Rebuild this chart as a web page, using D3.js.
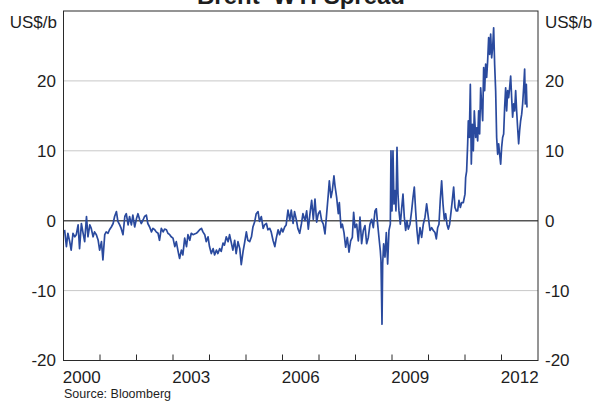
<!DOCTYPE html>
<html><head><meta charset="utf-8">
<script src="https://cdn.jsdelivr.net/npm/d3@7"></script>
<style>
body{margin:0;background:#fff}
svg{display:block}
text{font-family:"Liberation Sans",Arial,sans-serif;fill:#1e1e1e}
</style>
</head><body>
<svg id="chart" width="595" height="401"></svg>
<script>
const titleText = "Brent–WTI Spread";
const unitLabel = "US$/b";
const sourceText = "Source: Bloomberg";
const yTicks = [-20, -10, 0, 10, 20];
const gridValues = [-10, 10, 20];
const yearLabels = [2000, 2003, 2006, 2009, 2012];
const yearTicks = [2001, 2002, 2003, 2004, 2005, 2006, 2007, 2008, 2009, 2010, 2011, 2012];

// decimal-year dates and Brent minus WTI spread (US$/b)
const dates = [
2000.03,2000.08,2000.12,2000.17,2000.21,2000.26,2000.31,2000.35,2000.40,2000.44,2000.49,2000.53,2000.58,2000.63,2000.67,2000.72,2000.76,2000.81,2000.85,2000.90,2000.95,2000.99,
2001.04,2001.08,2001.13,2001.17,2001.22,2001.26,2001.31,2001.36,2001.40,2001.45,2001.49,2001.54,2001.58,2001.63,2001.68,2001.72,2001.77,2001.81,2001.86,2001.90,2001.95,
2002.00,2002.04,2002.09,2002.13,2002.18,2002.22,2002.27,2002.31,2002.36,2002.41,2002.45,2002.50,2002.54,2002.59,2002.63,2002.68,2002.73,2002.77,2002.82,2002.86,2002.91,2002.95,
2003.00,2003.05,2003.09,2003.14,2003.18,2003.23,2003.27,2003.32,2003.37,2003.41,2003.46,2003.50,2003.55,2003.59,2003.64,2003.68,2003.73,2003.78,2003.82,2003.87,2003.91,2003.96,
2004.00,2004.05,2004.10,2004.14,2004.19,2004.23,2004.28,2004.32,2004.37,2004.41,2004.46,2004.51,2004.55,2004.60,2004.64,2004.69,2004.73,2004.78,2004.83,2004.87,2004.92,2004.96,
2005.01,2005.05,2005.10,2005.15,2005.19,2005.24,2005.28,2005.33,2005.37,2005.42,2005.47,2005.51,2005.56,2005.60,2005.65,2005.69,2005.74,2005.79,2005.83,2005.88,2005.92,2005.97,
2006.01,2006.06,2006.10,2006.15,2006.20,2006.24,2006.29,2006.33,2006.38,2006.42,2006.47,2006.52,2006.56,
2006.616,2006.662,2006.707,2006.753,2006.799,2006.844,2006.890,2006.936,2006.981,
2007.027,2007.073,2007.118,2007.164,2007.210,2007.255,2007.283,2007.328,2007.365,2007.410,2007.438,2007.484,2007.529,2007.557,2007.602,2007.639,2007.685,2007.730,2007.776,2007.822,2007.867,2007.913,2007.949,2007.986,
2008.032,2008.077,2008.123,2008.168,2008.214,2008.260,2008.305,2008.351,2008.397,2008.442,2008.488,2008.534,2008.570,2008.607,2008.643,2008.680,2008.698,2008.726,2008.744,2008.771,2008.808,2008.844,2008.881,2008.917,2008.954,2008.972,
2009.000,2009.027,2009.054,2009.082,2009.109,2009.137,2009.164,2009.191,2009.228,2009.264,2009.301,2009.337,2009.374,2009.410,2009.447,2009.493,2009.538,2009.575,2009.611,2009.648,2009.684,2009.721,2009.767,2009.812,2009.858,2009.904,2009.949,2009.995,
2010.041,2010.086,2010.132,2010.178,2010.214,2010.251,2010.287,2010.324,2010.360,2010.397,2010.433,2010.470,2010.506,2010.543,2010.579,2010.616,2010.652,2010.689,2010.725,2010.762,2010.799,2010.835,2010.872,2010.908,2010.954,
2011.000,2011.018,2011.045,2011.073,2011.091,2011.118,2011.146,2011.173,2011.200,2011.228,2011.255,2011.292,2011.319,2011.347,2011.374,2011.401,2011.429,2011.456,2011.484,2011.511,2011.538,2011.566,2011.593,2011.621,2011.648,2011.675,2011.703,2011.730,2011.758,2011.785,2011.812,2011.840,2011.867,2011.895,2011.922,2011.949,2011.977,
2012.004,2012.031,2012.059,2012.086,2012.114,2012.141,2012.168,2012.196,2012.223,2012.251,2012.278,2012.305,2012.333,2012.360,2012.388,2012.415,2012.442,2012.470,2012.497,2012.524,2012.552,2012.579,2012.607,2012.634,2012.652,2012.680,2012.698
];
const spread = [
-1.3,-3.7,-1.8,-3.0,-4.2,-1.8,-2.3,-2.0,-0.6,-4.0,-0.4,-1.6,-3.0,0.6,-2.3,-0.6,-1.1,-2.3,-1.6,-2.0,-2.8,-4.2,
-3.0,-5.6,-2.0,-1.6,-1.8,-1.3,-0.9,-0.4,0.6,1.3,-0.1,-0.6,-1.1,-2.0,0.6,1.0,-0.6,0.6,-0.6,0.8,-0.9,
0.3,1.0,0.1,-0.4,0.1,0.6,0.8,-0.4,-0.9,-1.6,-1.1,-1.3,-1.6,-1.8,-2.8,-1.1,-1.6,-1.2,-1.3,-1.8,-2.0,-2.3,
-2.5,-3.7,-3.0,-4.4,-5.4,-4.2,-4.9,-2.5,-3.7,-2.0,-2.8,-1.8,-2.0,-1.9,-1.8,-1.6,-1.3,-1.1,-1.6,-2.0,-3.0,-2.3,
-3.7,-4.7,-4.0,-4.9,-4.2,-4.7,-4.0,-4.4,-3.2,-3.5,-2.3,-3.0,-2.0,-3.2,-4.2,-2.8,-4.7,-3.0,-4.0,-6.3,-4.4,-3.2,
-1.6,-2.8,-3.0,-2.3,-0.9,-0.1,1.0,1.3,-0.1,0.6,-1.1,-0.6,-0.4,-1.3,-1.1,-1.6,-2.8,-3.7,-2.5,-1.3,-2.0,-1.1,
-1.6,-0.9,-0.6,1.5,0.1,1.5,-0.4,1.3,0.1,-1.1,-1.8,-0.4,1.0,
0.0,1.4,-1.2,1.0,2.9,0.2,3.1,-0.2,1.0,
1.4,0.0,-0.5,-1.9,1.0,3.8,5.7,3.3,4.3,6.4,5.0,3.3,1.0,2.6,-1.0,-0.5,-1.7,-3.8,-2.4,-4.5,-2.9,-2.4,1.2,-1.0,
-0.5,-2.9,0.5,-3.3,-1.4,-0.7,-3.3,-2.4,-0.5,0.2,-1.0,1.4,1.7,-0.5,-2.4,-4.3,-5.7,-14.8,-6.2,-3.3,-5.2,-1.7,-6.2,-1.4,-0.5,10.0,
1.4,10.0,2.4,4.3,1.4,10.5,3.8,1.4,-0.5,1.7,3.8,0.5,-1.4,0.0,-1.2,-0.5,1.4,3.3,4.8,1.4,-1.4,-3.3,-1.0,-2.4,-0.5,0.5,2.4,0.5,
-1.4,-1.0,-1.4,-1.7,-2.6,-1.0,-0.5,3.1,5.7,2.4,0.2,1.0,-0.5,-1.2,-0.5,1.2,2.9,4.8,1.9,1.4,1.4,2.9,1.9,2.6,2.6,
3.8,6.2,7.1,11.0,14.3,11.9,19.5,8.1,13.8,10.0,15.7,11.9,13.3,11.4,15.7,12.4,19.0,16.7,14.3,21.9,18.6,22.4,20.5,22.9,26.2,23.8,26.7,23.3,24.8,27.6,22.4,18.6,11.9,9.5,11.0,9.5,8.1,
10.5,11.9,12.4,16.2,19.0,15.7,18.6,17.6,19.0,20.7,17.6,14.8,16.7,15.7,18.6,15.7,13.3,11.0,12.9,14.3,15.2,16.7,19.0,21.7,16.7,19.5,16.2
];

const svg = d3.select("#chart");
const plot = {left: 63.5, right: 538, top: 11, bottom: 360.5};

const x = d3.scaleLinear().domain([2000, 2013]).range([plot.left, plot.right]);
const y = d3.scaleLinear().domain([-20, 30]).range([plot.bottom, plot.top]);

const data = dates.map((d, i) => ({d: d, v: spread[i]}));

// title (partly cut off at top edge, as in the reference)
svg.append("text").attr("x", 301).attr("y", 4)
  .attr("text-anchor", "middle").attr("font-size", 24).attr("font-weight", "bold")
  .text(titleText);

// gridlines
svg.append("g").selectAll("line").data(gridValues).join("line")
  .attr("x1", plot.left).attr("x2", plot.right)
  .attr("y1", d => y(d)).attr("y2", d => y(d))
  .attr("stroke", "#c8c8c8").attr("stroke-width", 1);

// zero line
svg.append("line").attr("x1", plot.left).attr("x2", plot.right)
  .attr("y1", y(0)).attr("y2", y(0))
  .attr("stroke", "#555").attr("stroke-width", 1.4);

// series
const line = d3.line().x(d => x(d.d)).y(d => y(d.v));
svg.append("path").datum(data).attr("d", line)
  .attr("fill", "none").attr("stroke", "#2a4a9e").attr("stroke-width", 1.7)
  .attr("stroke-linejoin", "round");

// frame
svg.append("rect").attr("x", plot.left).attr("y", plot.top)
  .attr("width", plot.right - plot.left).attr("height", plot.bottom - plot.top)
  .attr("fill", "none").attr("stroke", "#2a2a2a").attr("stroke-width", 1);

// bottom year ticks (pointing up, inside)
svg.append("g").selectAll("line").data(yearTicks).join("line")
  .attr("x1", d => x(d)).attr("x2", d => x(d))
  .attr("y1", plot.bottom).attr("y2", plot.bottom - 6)
  .attr("stroke", "#2a2a2a").attr("stroke-width", 1);

// year labels centred in each year
svg.append("g").selectAll("text").data(yearLabels).join("text")
  .attr("x", d => x(d + 0.5)).attr("y", 383)
  .attr("text-anchor", "middle").attr("font-size", 17)
  .text(d => d);

// y labels left and right
svg.append("g").selectAll("text").data(yTicks).join("text")
  .attr("x", 56).attr("y", d => y(d)).attr("dy", "0.35em")
  .attr("text-anchor", "end").attr("font-size", 17).text(d => d);
svg.append("g").selectAll("text").data(yTicks).join("text")
  .attr("x", 545).attr("y", d => y(d)).attr("dy", "0.35em")
  .attr("text-anchor", "start").attr("font-size", 17).text(d => d);

// unit labels
svg.append("text").attr("x", 57).attr("y", 28).attr("text-anchor", "end")
  .attr("font-size", 17).text(unitLabel);
svg.append("text").attr("x", 545).attr("y", 28).attr("text-anchor", "start")
  .attr("font-size", 17).text(unitLabel);

// source
svg.append("text").attr("x", 64).attr("y", 398).attr("font-size", 12.5).text(sourceText);
</script>
</body></html>
